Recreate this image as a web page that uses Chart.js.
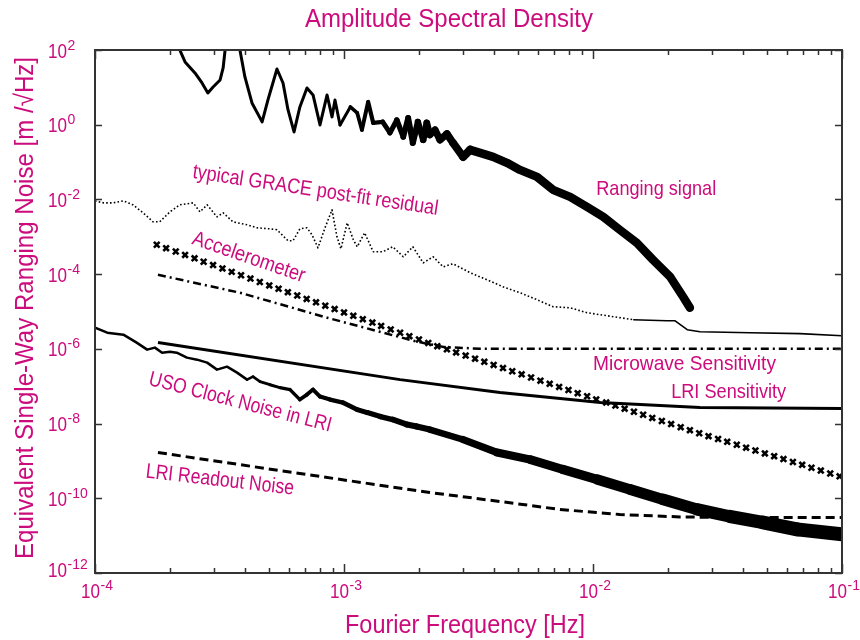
<!DOCTYPE html>
<html>
<head>
<meta charset="utf-8">
<script src="https://cdn.jsdelivr.net/npm/chart.js@4.4.1/dist/chart.umd.min.js"></script>
<style>
  html, body { margin: 0; padding: 0; background: #fff; }
</style>
</head>
<body>
<canvas id="asd" width="860" height="640"></canvas>
<script>
// values: frequency [Hz], amplitude [m/sqrt(Hz)]
var rangingFreq = [2.15e-4, 2.19e-4, 2.30e-4, 2.52e-4, 2.69e-4, 2.84e-4, 2.98e-4, 3.18e-4, 3.27e-4, 3.33e-4, 3.36e-4, 3.55e-4, 3.82e-4, 4.00e-4, 4.27e-4, 4.69e-4, 4.95e-4, 5.38e-4, 5.69e-4, 5.96e-4, 6.30e-4, 6.65e-4, 7.10e-4, 7.51e-4, 8.01e-4, 8.55e-4, 8.95e-4, 9.20e-4, 9.64e-4, 1.06e-3, 1.13e-3, 1.18e-3, 1.25e-3, 1.31e-3, 1.43e-3, 1.53e-3, 1.63e-3, 1.73e-3, 1.81e-3, 1.89e-3, 1.98e-3, 2.08e-3, 2.15e-3, 2.21e-3, 2.32e-3, 2.43e-3, 2.59e-3, 2.74e-3, 3.01e-3, 3.21e-3, 3.52e-3, 3.97e-3, 4.23e-3, 4.51e-3, 5.09e-3, 5.96e-3, 6.91e-3, 8.09e-3, 9.46e-3, 1.10e-2, 1.28e-2, 1.50e-2, 1.74e-2, 2.04e-2, 2.30e-2, 2.45e-2];
var rangingAmp = [209, 100, 47.8, 24.3, 13.1, 7.08, 10.2, 15.8, 33.0, 100, 209, 631, 100, 19.0, 3.83, 1.19, 4.60, 31.0, 13.1, 2.49, 0.641, 2.99, 9.64, 6.26, 0.987, 6.26, 1.62, 4.60, 0.987, 2.99, 2.07, 0.726, 4.07, 1.12, 1.19, 0.604, 1.34, 0.472, 1.52, 0.326, 1.19, 0.393, 1.12, 0.533, 0.726, 0.393, 0.567, 0.326, 0.138, 0.212, 0.176, 0.138, 0.115, 0.0952, 0.0618, 0.0402, 0.0181, 0.01172, 0.00634, 0.00342, 0.00154, 6.90e-4, 2.43e-4, 8.51e-5, 2.48e-5, 1.26e-5];

var graceFreq = [1.0e-4, 1.08e-4, 1.18e-4, 1.30e-4, 1.42e-4, 1.56e-4, 1.71e-4, 1.82e-4, 2.00e-4, 2.19e-4, 2.48e-4, 2.64e-4, 2.82e-4, 3.09e-4, 3.27e-4, 3.58e-4, 4.08e-4, 4.47e-4, 5.04e-4, 5.38e-4, 5.96e-4, 6.24e-4, 6.65e-4, 7.10e-4, 7.44e-4, 7.86e-4, 8.39e-4, 8.95e-4, 9.37e-4, 9.72e-4, 1.03e-3, 1.09e-3, 1.13e-3, 1.21e-3, 1.31e-3, 1.43e-3, 1.57e-3, 1.73e-3, 1.89e-3, 2.08e-3, 2.28e-3, 2.50e-3, 2.74e-3, 3.21e-3, 3.75e-3, 4.35e-3, 5.09e-3, 5.96e-3, 6.91e-3, 8.09e-3, 9.46e-3, 1.07e-2, 1.45e-2, 1.98e-2, 2.13e-2, 2.39e-2, 2.69e-2, 4.27e-2, 6.78e-2, 1.0e-1];
var graceAmp = [9.16e-3, 8.11e-3, 8.11e-3, 9.16e-3, 7.16e-3, 4.38e-3, 2.52e-3, 2.52e-3, 4.66e-3, 7.16e-3, 8.11e-3, 4.66e-3, 7.16e-3, 3.42e-3, 4.38e-3, 2.52e-3, 2.09e-3, 1.74e-3, 1.63e-3, 1.54e-3, 7.81e-4, 7.81e-4, 1.63e-3, 1.74e-3, 1.13e-3, 5.07e-4, 1.74e-3, 5.27e-3, 1.0e-3, 4.77e-4, 2.37e-3, 8.32e-4, 5.40e-4, 1.28e-3, 3.97e-4, 3.97e-4, 5.40e-4, 2.92e-4, 5.40e-4, 2.01e-4, 2.92e-4, 1.57e-4, 1.90e-4, 1.09e-4, 7.08e-5, 4.60e-5, 3.18e-5, 2.07e-5, 1.34e-5, 1.26e-5, 9.27e-6, 8.20e-6, 6.04e-6, 5.68e-6, 5.68e-6, 3.26e-6, 2.88e-6, 2.71e-6, 2.55e-6, 2.25e-6];

var accFreq = [1.77e-4, 1.93e-4, 2.11e-4, 2.30e-4, 2.51e-4, 2.73e-4, 2.98e-4, 3.25e-4, 3.54e-4, 3.86e-4, 4.21e-4, 4.59e-4, 5.01e-4, 5.46e-4, 5.95e-4, 6.49e-4, 7.08e-4, 7.72e-4, 8.41e-4, 9.17e-4, 1.00e-3, 1.09e-3, 1.19e-3, 1.30e-3, 1.41e-3, 1.54e-3, 1.68e-3, 1.83e-3, 2.00e-3, 2.18e-3, 2.37e-3, 2.59e-3, 2.82e-3, 3.08e-3, 3.36e-3, 3.66e-3, 3.99e-3, 4.35e-3, 4.74e-3, 5.17e-3, 5.64e-3, 6.15e-3, 6.70e-3, 7.31e-3, 7.97e-3, 8.68e-3, 9.47e-3, 1.03e-2, 1.13e-2, 1.23e-2, 1.34e-2, 1.46e-2, 1.59e-2, 1.73e-2, 1.89e-2, 2.06e-2, 2.25e-2, 2.45e-2, 2.67e-2, 2.91e-2, 3.18e-2, 3.46e-2, 3.78e-2, 4.12e-2, 4.49e-2, 4.90e-2, 5.34e-2, 5.82e-2, 6.35e-2, 6.92e-2, 7.54e-2, 8.22e-2, 8.97e-2, 9.78e-2];
var accAmp = [6.11e-4, 4.96e-4, 4.03e-4, 3.27e-4, 2.65e-4, 2.15e-4, 1.75e-4, 1.42e-4, 1.15e-4, 9.35e-5, 7.59e-5, 6.16e-5, 5.00e-5, 4.06e-5, 3.30e-5, 2.68e-5, 2.17e-5, 1.76e-5, 1.43e-5, 1.16e-5, 9.43e-6, 7.66e-6, 6.22e-6, 5.05e-6, 4.10e-6, 3.32e-6, 2.70e-6, 2.19e-6, 1.78e-6, 1.44e-6, 1.18e-6, 9.73e-7, 8.02e-7, 6.61e-7, 5.45e-7, 4.49e-7, 3.71e-7, 3.05e-7, 2.52e-7, 2.08e-7, 1.71e-7, 1.41e-7, 1.16e-7, 9.59e-8, 7.91e-8, 6.52e-8, 5.38e-8, 4.44e-8, 3.67e-8, 3.03e-8, 2.51e-8, 2.07e-8, 1.72e-8, 1.42e-8, 1.17e-8, 9.70e-9, 8.02e-9, 6.64e-9, 5.51e-9, 4.61e-9, 3.87e-9, 3.24e-9, 2.71e-9, 2.27e-9, 1.90e-9, 1.59e-9, 1.34e-9, 1.12e-9, 9.37e-10, 7.85e-10, 6.57e-10, 5.51e-10, 4.61e-10, 3.86e-10];

var mwFreq = [1.79e-4, 3.82e-4, 8.55e-4, 1.96e-3, 2.54e-3, 3.52e-3, 1.0e-1];
var mwAmp = [9.64e-5, 3.18e-5, 6.83e-6, 1.56e-6, 1.11e-6, 1.01e-6, 1.0e-6];

var lriFreq = [1.79e-4, 1.68e-3, 4.23e-3, 1.07e-2, 2.69e-2, 1.0e-1];
var lriAmp = [1.47e-6, 1.50e-7, 6.75e-8, 3.64e-8, 2.68e-8, 2.52e-8];

var usoFreq = [1.0e-4, 1.12e-4, 1.30e-4, 1.47e-4, 1.62e-4, 1.74e-4, 1.86e-4, 2.00e-4, 2.13e-4, 2.34e-4, 2.57e-4, 2.82e-4, 3.09e-4, 3.39e-4, 3.72e-4, 4.08e-4, 4.31e-4, 4.60e-4, 5.04e-4, 5.53e-4, 6.07e-4, 6.65e-4, 7.10e-4, 7.51e-4, 8.01e-4, 8.79e-4, 9.91e-4, 1.13e-3, 1.24e-3, 1.40e-3, 1.57e-3, 1.79e-3, 1.96e-3, 2.21e-3, 3.01e-3, 4.12e-3, 5.58e-3, 7.58e-3, 1.04e-2, 1.41e-2, 1.91e-2, 2.62e-2, 3.55e-2, 4.82e-2, 6.60e-2, 1.0e-1];
var usoAmp = [3.69e-6, 2.71e-6, 2.40e-6, 1.47e-6, 9.52e-7, 1.08e-6, 7.91e-7, 8.41e-7, 7.91e-7, 5.82e-7, 5.14e-7, 4.28e-7, 2.78e-7, 3.34e-7, 2.31e-7, 1.50e-7, 1.81e-7, 1.33e-7, 1.10e-7, 9.18e-8, 8.11e-8, 4.38e-8, 5.96e-8, 8.11e-8, 5.27e-8, 4.38e-8, 3.64e-8, 2.37e-8, 1.97e-8, 1.54e-8, 1.28e-8, 9.40e-9, 8.32e-9, 6.92e-9, 3.73e-9, 1.68e-9, 1.09e-9, 5.89e-10, 3.18e-10, 1.72e-10, 9.29e-11, 5.02e-11, 3.26e-11, 2.25e-11, 1.47e-11, 1.08e-11];

var roFreq = [1.79e-4, 6.65e-4, 2.21e-3, 4.23e-3, 7.37e-3, 1.28e-2, 2.24e-2, 3.89e-2, 1.0e-1];
var roAmp = [1.68e-9, 4.60e-10, 1.43e-10, 8.21e-11, 5.02e-11, 3.69e-11, 3.16e-11, 3.07e-11, 3.07e-11];

var xDecades = [-4, -3, -2, -1];
var yDecades = [2, 0, -2, -4, -6, -8, -10, -12];

var noteText = ['typical GRACE post-fit residual', 'Ranging signal', 'Accelerometer', 'Microwave Sensitivity', 'LRI Sensitivity', 'USO Clock Noise in LRI', 'LRI Readout Noise'];
var noteFreq = [2.45e-4, 1.03e-2, 2.43e-4, 1.0e-2, 2.06e-2, 1.63e-4, 1.59e-4];
var noteAmp = [3.78e-2, 1.33e-2, 6.5e-4, 2.78e-7, 4.95e-8, 1.10e-7, 3.6e-10];
var noteAngle = [8.6, 0, 19, 0, 0, 14.5, 6.6];
var noteWidth = [248, 120, 118, 183, 115, 188, 149];

var MAGENTA = '#cc0b7c';
var FONT = '"Liberation Sans Narrow", "Liberation Sans", sans-serif';

function pairs(fx, fy) {
    return fx.map(function (f, i) { return { x: f, y: fy[i] }; });
}

// stroke width grows gradually along the noisy traces (log of frequency)
function ramp(f, f0, w0, f1, w1) {
    var t = (Math.log10(f) - Math.log10(f0)) / (Math.log10(f1) - Math.log10(f0));
    t = Math.max(0, Math.min(1, t));
    return w0 + (w1 - w0) * t;
}
function rangingWidth(c) {
    return ramp(c.p0.parsed.x, 9.5e-4, 3, 3.2e-3, 8.5);
}
function usoWidth(c) {
    return ramp(c.p0.parsed.x, 4e-4, 2.5, 5e-2, 14);
}

// "10" with a raised exponent; x is the centre of the whole label or its left edge
function drawPower(ctx, x, y, exp, centred) {
    ctx.font = '20px ' + FONT;
    var w = Math.min(ctx.measureText('10').width, 19);
    ctx.font = '14px ' + FONT;
    var we = ctx.measureText(exp).width;
    var x0 = centred ? x - (w + 0.5 + we) / 2 : x;
    ctx.textAlign = 'left';
    ctx.textBaseline = 'alphabetic';
    ctx.font = '20px ' + FONT;
    ctx.fillText('10', x0, y, 19);
    ctx.font = '14px ' + FONT;
    ctx.fillText(exp, x0 + w + 0.5, y - 8);
}

var decor = {
    id: 'decor',
    afterDraw: function (chart) {
        var ctx = chart.ctx, a = chart.chartArea;
        var xs = chart.scales.x, ys = chart.scales.y;
        ctx.save();
        // frame and inward ticks
        ctx.strokeStyle = '#333';
        ctx.lineWidth = 2;
        ctx.strokeRect(a.left, a.top, a.right - a.left, a.bottom - a.top);
        ctx.lineWidth = 1.5;
        ctx.beginPath();
        xDecades.forEach(function (d) {
            for (var m = 1; m <= 9; m++) {
                if (d === -1 && m > 1) break;
                var px = Math.round(xs.getPixelForValue(m * Math.pow(10, d))) + 0.5;
                var len = m === 1 ? 9 : 5;
                ctx.moveTo(px, a.bottom); ctx.lineTo(px, a.bottom - len);
                ctx.moveTo(px, a.top); ctx.lineTo(px, a.top + len);
            }
        });
        yDecades.forEach(function (d) {
            var py = Math.round(ys.getPixelForValue(Math.pow(10, d))) + 0.5;
            ctx.moveTo(a.left, py); ctx.lineTo(a.left + 7, py);
            ctx.moveTo(a.right, py); ctx.lineTo(a.right - 7, py);
        });
        ctx.stroke();

        // tick labels
        ctx.fillStyle = MAGENTA;
        xDecades.forEach(function (d) {
            drawPower(ctx, xs.getPixelForValue(Math.pow(10, d)) + 2, a.bottom + 25, String(d), true);
        });
        yDecades.forEach(function (d) {
            var py = ys.getPixelForValue(Math.pow(10, d));
            drawPower(ctx, 48, py + (d === -12 ? 4 : 7.5), String(d), false);
        });

        // titles
        ctx.textAlign = 'center';
        ctx.textBaseline = 'alphabetic';
        ctx.font = '26px ' + FONT;
        ctx.fillText('Amplitude Spectral Density', 449, 27, 288);
        ctx.fillText('Fourier Frequency [Hz]', 465, 633, 240);
        ctx.save();
        ctx.translate(33, 308);
        ctx.rotate(-Math.PI / 2);
        ctx.fillText('Equivalent Single-Way Ranging Noise [m /\u221AHz]', 0, 0, 502);
        ctx.restore();

        // curve labels
        ctx.font = '21px ' + FONT;
        ctx.textAlign = 'left';
        noteText.forEach(function (t, i) {
            ctx.save();
            ctx.translate(xs.getPixelForValue(noteFreq[i]), ys.getPixelForValue(noteAmp[i]));
            ctx.rotate(noteAngle[i] * Math.PI / 180);
            ctx.fillText(t, 0, 0, noteWidth[i]);
            ctx.restore();
        });
        ctx.restore();
    }
};

var lineBase = { showLine: true, pointRadius: 0, borderColor: '#000', tension: 0, borderJoinStyle: 'round', fill: false };

var datasets = [
    Object.assign({}, lineBase, {
        label: 'typical GRACE post-fit residual', data: pairs(graceFreq, graceAmp), borderWidth: 1.6,
        segment: { borderDash: function (c) { return c.p0.parsed.x < 1.1e-2 ? [1.6, 2.2] : []; } }
    }),
    Object.assign({}, lineBase, { label: 'Microwave Sensitivity', data: pairs(mwFreq, mwAmp), borderWidth: 2.5, borderDash: [8, 4, 2, 4] }),
    Object.assign({}, lineBase, { label: 'LRI Sensitivity', data: pairs(lriFreq, lriAmp), borderWidth: 3 }),
    {
        label: 'Accelerometer', data: pairs(accFreq, accAmp), showLine: false,
        pointStyle: 'crossRot', pointRadius: 4, pointBorderWidth: 2.6, borderColor: '#000', backgroundColor: '#000'
    },
    Object.assign({}, lineBase, { label: 'LRI Readout Noise', data: pairs(roFreq, roAmp), borderWidth: 3, borderDash: [9, 5] }),
    Object.assign({}, lineBase, {
        label: 'USO Clock Noise in LRI', data: pairs(usoFreq, usoAmp), borderWidth: 2.5, borderCapStyle: 'round',
        segment: { borderWidth: usoWidth, borderCapStyle: function () { return 'round'; } }
    }),
    Object.assign({}, lineBase, {
        label: 'Ranging signal', data: pairs(rangingFreq, rangingAmp), borderWidth: 3, borderCapStyle: 'round',
        segment: { borderWidth: rangingWidth, borderCapStyle: function () { return 'round'; } }
    })
];

var config = {
    type: 'scatter',
    data: { datasets: datasets },
    options: {
        responsive: false,
        animation: false,
        layout: { padding: { left: 95, right: 18, top: 50, bottom: 67 } },
        scales: {
            x: { type: 'logarithmic', min: 1e-4, max: 1e-1, display: false },
            y: { type: 'logarithmic', min: 1e-12, max: 1e2, display: false }
        },
        plugins: { legend: { display: false }, tooltip: { enabled: false }, title: { display: false } }
    },
    plugins: [decor]
};

var ctx = document.getElementById('asd').getContext('2d');
var asdChart = new Chart(ctx, config);
</script>
</body>
</html>
